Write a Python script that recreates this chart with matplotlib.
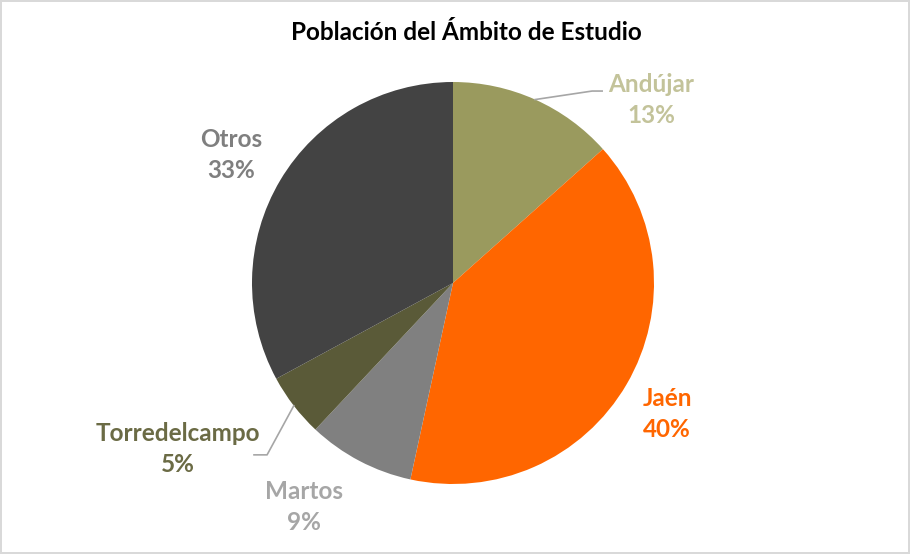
import numpy as np
import matplotlib.pyplot as plt

plt.rcParams["font.family"] = ["Lato", "DejaVu Sans"]

labels = ["Andújar", "Jaén", "Martos", "Torredelcampo", "Otros"]
values = [13.4, 40.0, 8.6, 5.1, 32.9]
pct_text = ["13%", "40%", "9%", "5%", "33%"]
colors = ["#9A9A5E", "#FF6600", "#808080", "#5A5A38", "#434343"]
label_colors = ["#C3C39A", "#FF6600", "#A6A6A6", "#6B6B45", "#7F7F7F"]

# label centres (data units, pie radius = 1)
label_pos = [(0.985, 0.91), (1.065, -0.652), (-0.741, -1.114), (-1.368, -0.826), (-1.104, 0.637)]

fig = plt.figure(figsize=(9.1, 5.54), dpi=100)
fig.patch.set_edgecolor("#D9D9D9")
fig.patch.set_linewidth(1.5)
ax = fig.add_axes([0, 0, 1, 1])

wedges, _ = ax.pie(values, colors=colors, startangle=90, counterclock=False,
                   radius=1.0, wedgeprops=dict(linewidth=0))
ax.set_aspect("auto")
ax.set_xlim(-453 / 201, (910 - 453) / 201)
ax.set_ylim(-271 / 201, 283 / 201)
ax.axis("off")

for w, lab, pct, lc, (tx, ty) in zip(wedges, labels, pct_text, label_colors, label_pos):
    ax.text(tx, ty, f"{lab}\n{pct}", ha="center", va="center", color=lc,
            fontsize=17.5, fontweight="bold", linespacing=1.4)

# leader lines for Andújar and Torredelcampo
for i, elbow, end in [(0, (0.692, 0.955), (0.742, 0.955)), (3, (-0.925, -0.855), (-0.99, -0.855))]:
    w = wedges[i]
    mid = np.deg2rad((w.theta1 + w.theta2) / 2)
    x0, y0 = np.cos(mid), np.sin(mid)
    ax.plot([x0, elbow[0], end[0]], [y0, elbow[1], end[1]], color="#A6A6A6", lw=1.2)

fig.text(466 / 910, 1 - 33 / 554, "Población del Ámbito de Estudio", ha="center", va="center",
         fontsize=17.5, fontweight="bold", color="black")

fig.savefig("out.png", dpi=100)
